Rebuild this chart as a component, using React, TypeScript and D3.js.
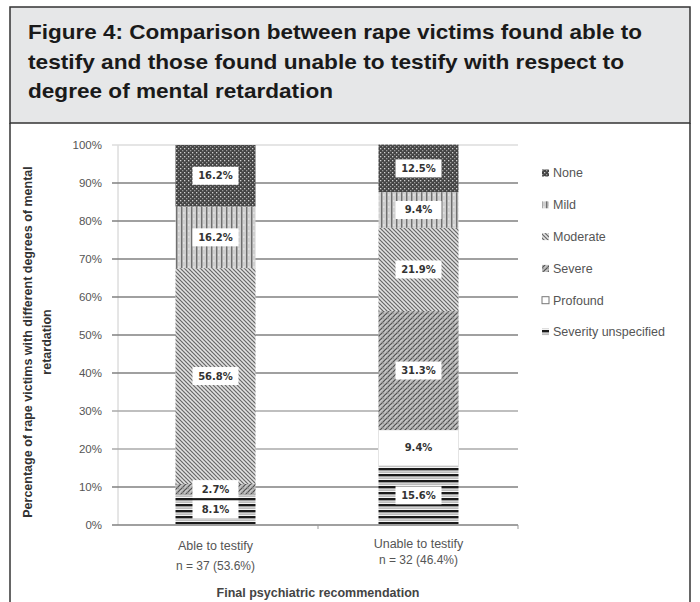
import React from "react";
import * as d3 from "d3";

const categories = ["Able to testify", "Unable to testify"];
const categorySubLabels = ["n = 37 (53.6%)", "n = 32 (46.4%)"];
const seriesNames = ["Severity unspecified", "Profound", "Severe", "Moderate", "Mild", "None"];
const seriesKeys = ["unspecified", "profound", "severe", "moderate", "mild", "none"];
const ableValues = [8.1, 0, 2.7, 56.8, 16.2, 16.2];
const unableValues = [15.6, 9.4, 31.3, 21.9, 9.4, 12.5];
const yTicks = [0, 10, 20, 30, 40, 50, 60, 70, 80, 90, 100];
const titleLines = [
  "Figure 4: Comparison between rape victims found able to",
  "testify and those found unable to testify with respect to",
  "degree of mental retardation",
];
const yTitleLines = ["Percentage of rape victims with different degrees of mental", "retardation"];
const xTitle = "Final psychiatric recommendation";

const W = 700;
const H = 602;

export default function App() {
  const x = d3.scaleBand<string>().domain(categories).range([114, 520]).padding(0);
  const y = d3.scaleLinear().domain([0, 100]).range([525, 145]);
  const barW = 80;
  const stack = d3
    .stack<any>()
    .keys(seriesKeys)
    .order(d3.stackOrderNone)
    .offset(d3.stackOffsetNone);
  const rows = categories.map((c, i) => {
    const vals = i === 0 ? ableValues : unableValues;
    const r: any = { cat: c };
    seriesKeys.forEach((k, j) => (r[k] = vals[j]));
    return r;
  });
  const layers = stack(rows);
  const fmt = (v: number) => `${v.toFixed(1)}%`;
  const axisFont = "'Liberation Sans', Arial, sans-serif";
  const titleLengths = [614, 596, 305];

  return (
    <div style={{ position: "absolute", left: 0, top: 0 }}>
      <svg width={W} height={H} style={{ display: "block", background: "#fff" }}>
        <defs>
          <pattern id="p-none" width="4" height="4" patternUnits="userSpaceOnUse">
            <rect width="4" height="4" fill="#444" />
            <rect x="0" y="0" width="1.3" height="1.3" fill="#d0d0d0" />
            <rect x="2" y="2" width="1.3" height="1.3" fill="#9a9a9a" />
          </pattern>
          <pattern id="p-mild" width="5" height="6" patternUnits="userSpaceOnUse">
            <rect width="5" height="6" fill="#cfcfcf" />
            <rect x="1" y="0" width="1.4" height="6" fill="#707070" />
            <rect x="3.5" y="2" width="0.8" height="2" fill="#f2f2f2" />
          </pattern>
          <pattern id="p-moderate" width="4" height="4" patternUnits="userSpaceOnUse">
            <rect width="4" height="4" fill="#e2e2e2" />
            <path d="M0,0 L4,4 M-1,3 L1,5 M3,-1 L5,1" stroke="#646464" strokeWidth="1.1" />
            <path d="M4,0 L0,4" stroke="#b0b0b0" strokeWidth="0.6" />
          </pattern>
          <pattern id="p-severe" width="5" height="5" patternUnits="userSpaceOnUse">
            <rect width="5" height="5" fill="#bdbdbd" />
            <path d="M0,5 L5,0 M-1,1 L1,-1 M4,6 L6,4" stroke="#505050" strokeWidth="1.2" />
            <path d="M0,0 L5,5" stroke="#8a8a8a" strokeWidth="0.6" />
            <rect x="0.5" y="0.5" width="1" height="1" fill="#f0f0f0" />
          </pattern>
          <pattern id="p-unspecified" width="6" height="6" patternUnits="userSpaceOnUse">
            <rect width="6" height="6" fill="#f4f4f4" />
            <rect x="0" y="0" width="6" height="2.4" fill="#1a1a1a" />
            <rect x="0" y="3.6" width="6" height="1" fill="#9a9a9a" />
          </pattern>
        </defs>

        {/* Title panel */}
        <rect x={10} y={7} width={680} height={116} fill="#e6e7e8" stroke="#333" strokeWidth={1.5} />
        {titleLines.map((t, i) => (
          <text
            key={i}
            x={28}
            y={39 + i * 29.5}
            fontFamily="'Liberation Sans', Arial, sans-serif"
            fontWeight="bold"
            fontSize={20.5}
            fill="#1a1a1a"
            textLength={titleLengths[i]}
            lengthAdjust="spacingAndGlyphs"
          >
            {t}
          </text>
        ))}
        {/* Chart panel borders */}
        <line x1={10} y1={123} x2={10} y2={H} stroke="#333" strokeWidth={1.5} />
        <line x1={690} y1={123} x2={690} y2={H} stroke="#333" strokeWidth={1.5} />

        {/* Y axis line */}
        <line x1={118} y1={y(100)} x2={118} y2={y(0)} stroke="#ccc" strokeWidth={1} />

        {/* Gridlines */}
        {yTicks.map((t) => (
          <g key={t}>
            <line
              x1={112}
              x2={518}
              y1={y(t)}
              y2={y(t)}
              stroke={t === 100 ? "#ddd" : t === 20 || t === 30 ? "#aaa" : "#808080"}
              strokeWidth={t === 0 ? 1.6 : 1.3}
            />
            <text
              x={102}
              y={y(t)}
              dy="0.35em"
              textAnchor="end"
              fontFamily={axisFont}
              fontSize={11.5}
              fill="#555"
            >
              {`${t}%`}
            </text>
          </g>
        ))}
        {/* x ticks */}
        {[318, 518].map((tx) => (
          <line key={tx} x1={tx} x2={tx} y1={y(0)} y2={y(0) + 4} stroke="#999" strokeWidth={1} />
        ))}

        {/* Bars */}
        {layers.map((layer, li) => (
          <g key={layer.key}>
            {layer.map((seg, ci) => {
              const v = seg[1] - seg[0];
              if (v <= 0) return null;
              const bx = (x(categories[ci]) as number) + (x.bandwidth() - barW) / 2;
              const top = y(seg[1]);
              const bot = y(seg[0]);
              const key = seriesKeys[li];
              return (
                <rect
                  key={ci}
                  x={bx}
                  y={top}
                  width={barW}
                  height={bot - top}
                  fill={key === "profound" ? "#fff" : `url(#p-${key})`}
                  stroke={key === "profound" ? "#e4e4e4" : "none"}
                />
              );
            })}
          </g>
        ))}

        {/* Data labels */}
        {layers.map((layer, li) => (
          <g key={"l" + layer.key}>
            {layer.map((seg, ci) => {
              const v = seg[1] - seg[0];
              if (v <= 0) return null;
              const cx = (x(categories[ci]) as number) + x.bandwidth() / 2;
              const cy = y((seg[0] + seg[1]) / 2);
              return (
                <g key={ci}>
                  <rect x={cx - 23} y={cy - 9} width={46} height={18} fill="#fff" />
                  <text
                    x={cx}
                    y={cy}
                    dy="0.35em"
                    textAnchor="middle"
                    fontFamily="'DejaVu Sans', sans-serif"
                    fontWeight="bold"
                    fontSize={10}
                    fill="#333"
                  >
                    {fmt(v)}
                  </text>
                </g>
              );
            })}
          </g>
        ))}

        {/* X labels */}
        {categories.map((c, i) => {
          const cx = (x(c) as number) + x.bandwidth() / 2;
          return (
            <g key={c}>
              <text x={cx} y={i === 0 ? 550 : 548} textAnchor="middle" fontFamily={axisFont} fontSize={12.5} fill="#555">
                {c}
              </text>
              <text x={cx} y={i === 0 ? 570 : 564} textAnchor="middle" fontFamily={axisFont} fontSize={12} fill="#555">
                {categorySubLabels[i]}
              </text>
            </g>
          );
        })}
        <text x={318} y={597} textAnchor="middle" fontFamily={axisFont} fontWeight="bold" fontSize={12.5} fill="#444">
          {xTitle}
        </text>

        {/* Y title */}
        {yTitleLines.map((t, i) => (
          <text
            key={i}
            transform={`translate(${28 + i * 19},${342}) rotate(-90)`}
            textAnchor="middle"
            dy="0.35em"
            fontFamily={axisFont}
            fontWeight="bold"
            fontSize={12.5}
            fill="#333"
          >
            {t}
          </text>
        ))}

        {/* Legend */}
        {seriesNames
          .map((n, i) => ({ n, key: seriesKeys[i] }))
          .reverse()
          .map((d, i) => {
            const ly = 173 + i * 31.8;
            return (
              <g key={d.key}>
                <rect
                  x={542}
                  y={ly - 3.5}
                  width={7}
                  height={7}
                  fill={d.key === "profound" ? "#fff" : `url(#p-${d.key})`}
                  stroke={d.key === "profound" ? "#777" : "none"}
                />
                <text x={553} y={ly} dy="0.35em" fontFamily={axisFont} fontSize={12.5} fill="#555">
                  {d.n}
                </text>
              </g>
            );
          })}
      </svg>
    </div>
  );
}
